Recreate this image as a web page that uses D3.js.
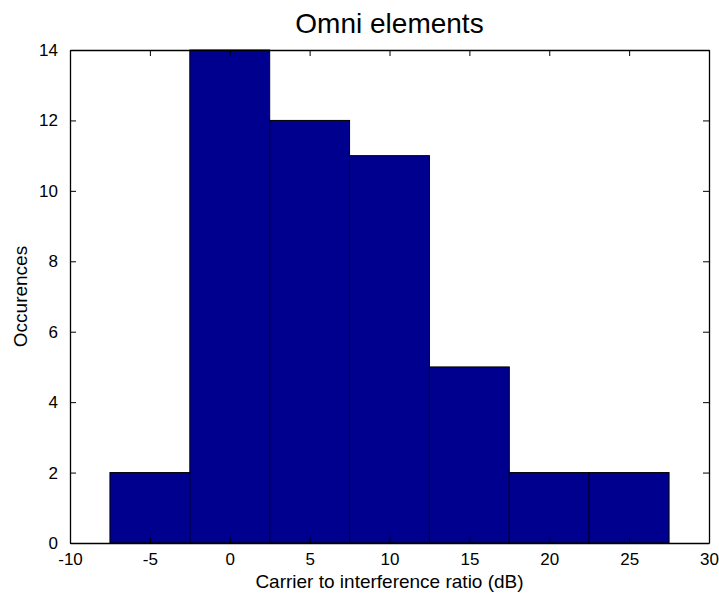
<!DOCTYPE html>
<html>
<head>
<meta charset="utf-8">
<script src="https://cdn.jsdelivr.net/npm/d3@7"></script>
<style>
  html, body { margin: 0; padding: 0; background: #fff; }
  text { font-family: "Liberation Sans", Arial, Helvetica, sans-serif; fill: #000; }
</style>
</head>
<body>
<svg id="chart" width="719" height="593"></svg>
<script>
const binCenters = [-5, 0, 5, 10, 15, 20, 25];
const binCounts = [2, 14, 12, 11, 5, 2, 2];
const binWidth = 5;
const xTicks = [-10, -5, 0, 5, 10, 15, 20, 25, 30];
const yTicks = [0, 2, 4, 6, 8, 10, 12, 14];
const titleText = "Omni elements";
const xLabelText = "Carrier to interference ratio (dB)";
const yLabelText = "Occurences";

const svg = d3.select("#chart");
const m = { left: 70, right: 10, top: 50, bottom: 50 };
const W = 719, H = 593;
const x = d3.scaleLinear().domain([-10, 30]).range([m.left, W - m.right]);
const y = d3.scaleLinear().domain([0, 14]).range([H - m.bottom, m.top]);

svg.append("rect").attr("width", W).attr("height", H).attr("fill", "#fff");

// bars
svg.append("g").selectAll("rect").data(binCenters).join("rect")
  .attr("x", (d) => x(d - binWidth / 2))
  .attr("width", (d) => x(d + binWidth / 2) - x(d - binWidth / 2))
  .attr("y", (d, i) => y(binCounts[i]))
  .attr("height", (d, i) => y(0) - y(binCounts[i]))
  .attr("fill", "#00008f")
  .attr("stroke", "#000")
  .attr("stroke-width", 1);

const tickLen = 6;
const fmt = (d) => String(d);
// bottom axis
const xb = svg.append("g").attr("transform", `translate(0,${y(0)})`)
  .call(d3.axisBottom(x).tickValues(xTicks).tickFormat(fmt).tickSizeInner(-tickLen).tickSizeOuter(0).tickPadding(10));
const xt = svg.append("g").attr("transform", `translate(0,${y(14)})`)
  .call(d3.axisTop(x).tickValues(xTicks).tickSizeInner(-tickLen).tickSizeOuter(0).tickFormat(""));
const yl = svg.append("g").attr("transform", `translate(${x(-10)},0)`)
  .call(d3.axisLeft(y).tickValues(yTicks).tickFormat(fmt).tickSizeInner(-tickLen).tickSizeOuter(0).tickPadding(12));
const yr = svg.append("g").attr("transform", `translate(${x(30)},0)`)
  .call(d3.axisRight(y).tickValues(yTicks).tickSizeInner(-tickLen).tickSizeOuter(0).tickFormat(""));

[xb, xt, yl, yr].forEach(g => {
  g.select(".domain").attr("stroke", "#000").attr("stroke-width", 1.3);
  g.selectAll(".tick line").attr("stroke", "#000");
  g.selectAll(".tick text").style("font-size", "17px").attr("fill", "#000");
});

svg.append("text").attr("x", (x(-10) + x(30)) / 2).attr("y", 33)
  .attr("text-anchor", "middle").style("font-size", "28px").text(titleText);
svg.append("text").attr("x", (x(-10) + x(30)) / 2).attr("y", 588)
  .attr("text-anchor", "middle").style("font-size", "19px").text(xLabelText);
svg.append("text").attr("transform", `translate(27,${(y(0) + y(14)) / 2}) rotate(-90)`)
  .attr("text-anchor", "middle").style("font-size", "19px").text(yLabelText);
</script>
</body>
</html>
